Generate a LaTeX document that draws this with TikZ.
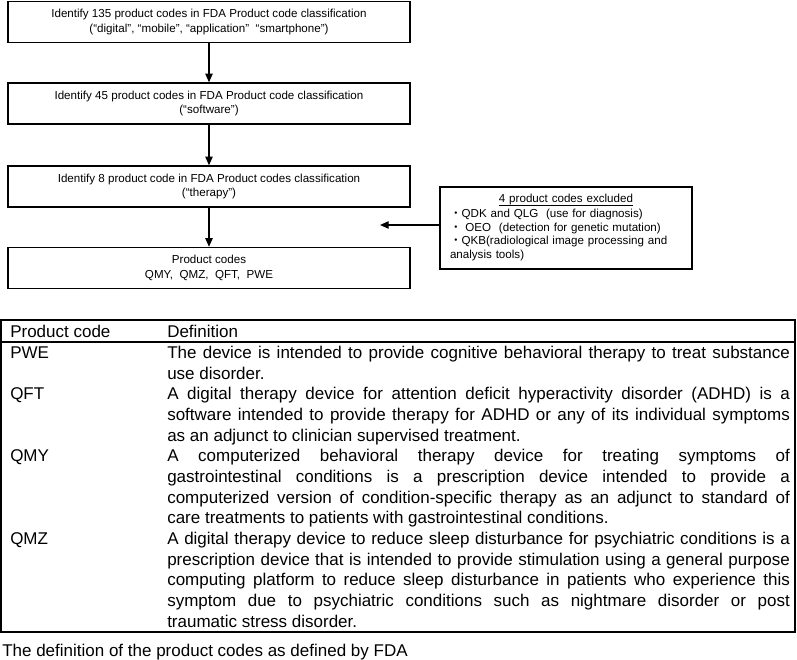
\documentclass[tikz,border=0pt]{standalone}
\usepackage{fontspec}
\setmainfont{Liberation Sans}
\newfontfamily\cjk{Noto Sans CJK JP}
\usepackage{tikz}
\usetikzlibrary{arrows.meta}

\newcommand{\fullline}[1]{\makebox[467pt][s]{#1}}
\newcommand{\thickul}[1]{\setbox0\hbox{#1}\rlap{\raisebox{-1.8pt}{\rule{\wd0}{0.6pt}}}\box0}

\begin{document}
\begin{tikzpicture}[
		x=0.75pt, y=-0.75pt,
		every node/.style={inner sep=0pt},
		step_box/.style={draw, line width=1pt, minimum width=301.5pt, minimum height=30.75pt, align=center, font=\fontsize{8.7}{10.7}\selectfont},
		excl_box/.style={draw, line width=1pt, inner xsep=7.5pt, text width=174pt, minimum height=61.5pt, align=left, font=\fontsize{8.7}{10.5}\selectfont},
		flow_arrow/.style={line width=1pt, -{Triangle[length=6.5pt, width=5.5pt]}},
		row_text/.style={anchor=base west, font=\fontsize{12.75}{15}\selectfont}
	]
  \useasboundingbox (0,0) rectangle (797,660);
  % flow chart
  \node (s_135) [step_box] at (209,22) {Identify 135 product codes in FDA Product code classification\\(“digital”, “mobile”, “application”\ \ “smartphone”)};
  \node (s_45) [step_box] at (209,103.5) {Identify 45 product codes in FDA Product code classification\\(“software”)};
  \node (s_8) [step_box] at (209,186.5) {Identify 8 product code in FDA Product codes classification\\(“therapy”)};
  \node (s_codes) [step_box] at (209,268) {Product codes\\QMY,\ \ QMZ,\ \ QFT,\ \ PWE};
  \node (excluded) [excl_box] at (566,228) {\makebox[174pt]{\thickul{4 product codes excluded}}\\{\cjk ・}QDK and QLG\ \ (use for diagnosis)\\{\cjk ・} OEO\ \ (detection for genetic mutation)\\{\cjk ・}QKB(radiological image processing and\\analysis tools)};
  \coordinate (excl_tip) at (380,225);
  \draw [flow_arrow] (s_135) -- (s_45);
  \draw [flow_arrow] (s_45) -- (s_8);
  \draw [flow_arrow] (s_8) -- (s_codes);
  \draw [flow_arrow] (excluded.west |- excl_tip) -- (excl_tip);
  % table
  \draw [line width=0.8pt] (1,320) rectangle (795,632);
  \draw [line width=1.6pt] (1,342) -- (795,342);
  \node (hd_code) [row_text] at (10,337) {Product code};
  \node (hd_def) [row_text] at (167,337) {Definition};
  \node (code_pwe) [row_text] at (10,358.5) {PWE};
  \node (def_pwe_1) [row_text] at (167,358.5) {\fullline{The device is intended to provide cognitive behavioral therapy to treat substance}};
  \node (def_pwe_2) [row_text] at (167,379.2) {use disorder.};
  \node (code_qft) [row_text] at (10,399.8) {QFT};
  \node (def_qft_1) [row_text] at (167,399.8) {\fullline{A digital therapy device for attention deficit hyperactivity disorder (ADHD) is a}};
  \node (def_qft_2) [row_text] at (167,420.5) {\fullline{software intended to provide therapy for ADHD or any of its individual symptoms}};
  \node (def_qft_3) [row_text] at (167,441.1) {as an adjunct to clinician supervised treatment.};
  \node (code_qmy) [row_text] at (10,461.8) {QMY};
  \node (def_qmy_1) [row_text] at (167,461.8) {\fullline{A computerized behavioral therapy device for treating symptoms of}};
  \node (def_qmy_2) [row_text] at (167,482.4) {\fullline{gastrointestinal conditions is a prescription device intended to provide a}};
  \node (def_qmy_3) [row_text] at (167,503.1) {\fullline{computerized version of condition-specific therapy as an adjunct to standard of}};
  \node (def_qmy_4) [row_text] at (167,523.7) {care treatments to patients with gastrointestinal conditions.};
  \node (code_qmz) [row_text] at (10,544.4) {QMZ};
  \node (def_qmz_1) [row_text] at (167,544.4) {\fullline{A digital therapy device to reduce sleep disturbance for psychiatric conditions is a}};
  \node (def_qmz_2) [row_text] at (167,565) {\fullline{prescription device that is intended to provide stimulation using a general purpose}};
  \node (def_qmz_3) [row_text] at (167,585.7) {\fullline{computing platform to reduce sleep disturbance in patients who experience this}};
  \node (def_qmz_4) [row_text] at (167,606.3) {\fullline{symptom due to psychiatric conditions such as nightmare disorder or post}};
  \node (def_qmz_5) [row_text] at (167,627) {traumatic stress disorder.};
  \node (caption) [row_text] at (2,656) {The definition of the product codes as defined by FDA};
\end{tikzpicture}
\end{document}
